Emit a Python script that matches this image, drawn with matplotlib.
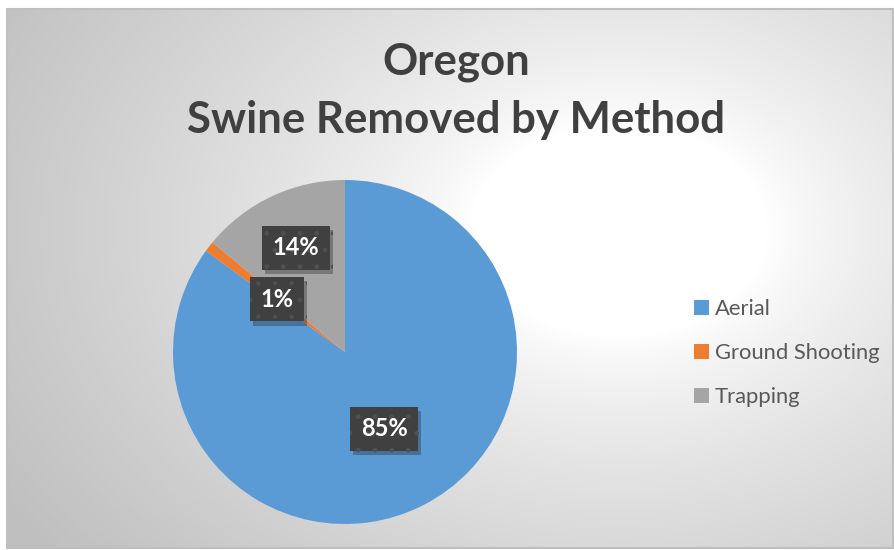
import numpy as np
import matplotlib.pyplot as plt
from matplotlib.patches import Rectangle
import matplotlib.patheffects as pe

plt.rcParams['font.family'] = ['Lato', 'DejaVu Sans']

methods = ['Aerial', 'Ground Shooting', 'Trapping']
shares = [85, 1, 14]
colors = ['#5B9BD5', '#ED7D31', '#A5A5A5']
label_dist = [0.5, 0.5, 0.67]

W, H = 895, 550
fig = plt.figure(figsize=(W / 100, H / 100), dpi=100)
ax = fig.add_axes([0, 0, 1, 1])

# background: soft radial gradient inside the chart frame
x0, x1, y0, y1 = 7, 893, 2, 541
gx, gy = np.meshgrid(np.linspace(x0, x1, 300), np.linspace(y1, y0, 200))
d = np.sqrt((gx - 620) ** 2 + ((gy - 320) * 1.4) ** 2)
t = np.clip((d - 150) / 580, 0, 1) ** 0.75
shade = 1 - t * 0.25
img = np.dstack([shade, shade, shade])
ax.imshow(img, extent=(x0, x1, y0, y1), origin='upper', zorder=0, aspect='auto')
ax.add_patch(Rectangle((x0, y0), x1 - x0, y1 - y0, fill=False,
                       edgecolor='#bfbfbf', linewidth=1.5, zorder=1))

cx, cy, r = 345, 198, 172
wedges, _ = ax.pie(shares, colors=colors, startangle=90, counterclock=False,
                   center=(cx, cy), radius=r, wedgeprops=dict(linewidth=0, zorder=2))

for w, v, dist in zip(wedges, shares, label_dist):
    mid = np.deg2rad((w.theta1 + w.theta2) / 2)
    tx = cx + r * dist * np.cos(mid)
    ty = cy + r * dist * np.sin(mid)
    txt = ax.text(tx, ty, f'{v}%', ha='center', va='center', color='white',
                  fontsize=17, fontweight='bold', zorder=5,
                  bbox=dict(boxstyle='square,pad=0.45', facecolor='#404040',
                            edgecolor='#505050', linewidth=0, hatch='.'))
    txt.get_bbox_patch().set_path_effects(
        [pe.SimplePatchShadow(offset=(2, -3), alpha=0.3), pe.Normal()])

ax.set_xlim(0, W)
ax.set_ylim(0, H)
ax.axis('off')

fig.text(456 / W, 1 - 62 / H, 'Oregon', ha='center', va='center',
         fontsize=31.5, fontweight='bold', color='#404040')
fig.text(456 / W, 1 - 120 / H, 'Swine Removed by Method', ha='center', va='center',
         fontsize=31.5, fontweight='bold', color='#404040')

fig.legend(wedges, methods, loc='upper left', bbox_to_anchor=(683 / W, 1 - 288 / H),
           frameon=False, fontsize=15.8, labelcolor='#595959',
           handlelength=0.7, handleheight=0.7, handletextpad=0.25,
           labelspacing=1.1, borderpad=0)

fig.savefig('out.png', dpi=100)
